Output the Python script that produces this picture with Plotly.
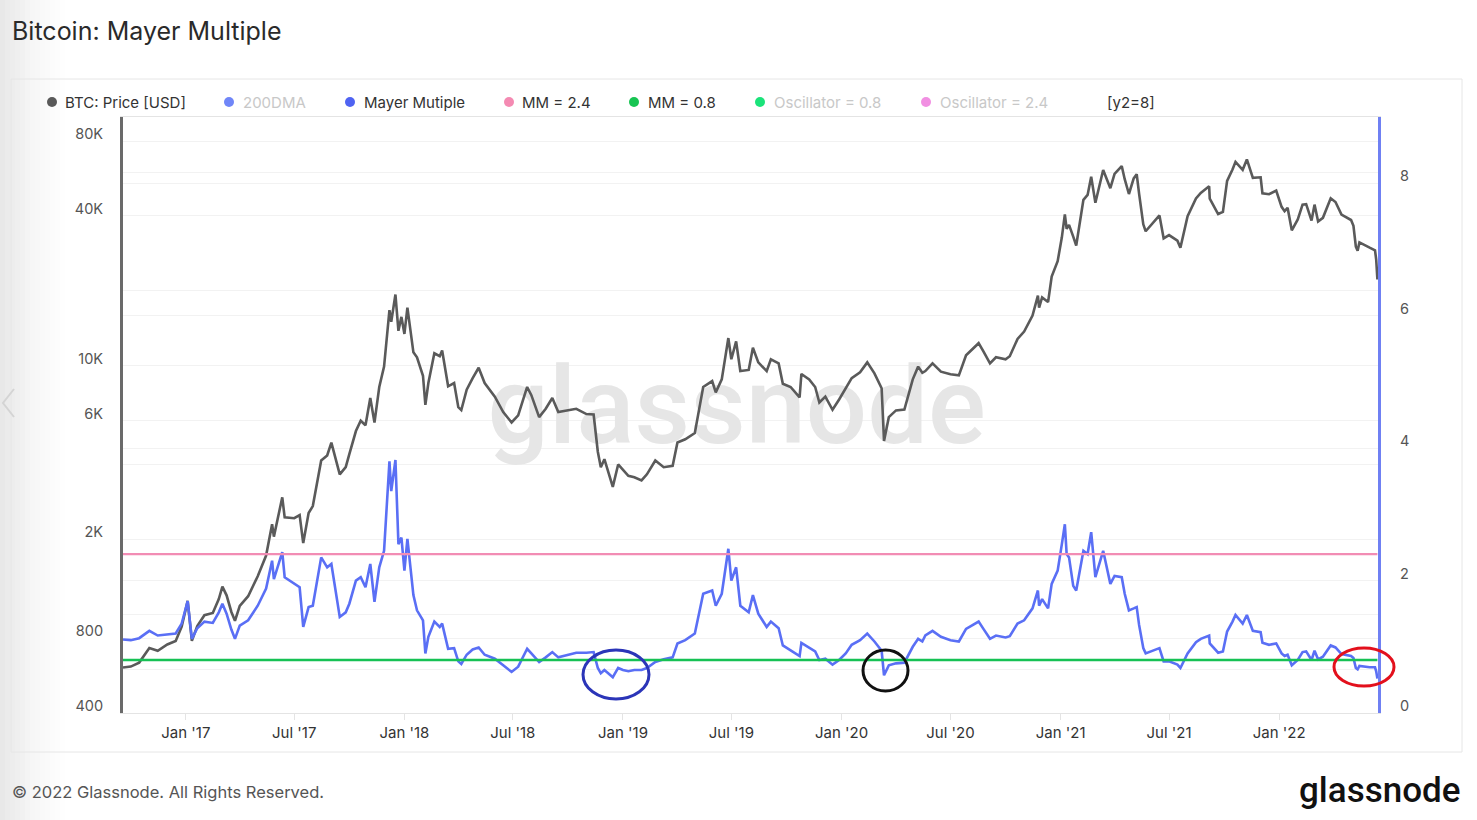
import math
import plotly.graph_objects as go

# ---------------- data ----------------
dates = [
    "2016-09-18", "2016-10-01", "2016-10-15", "2016-11-01", "2016-11-15", "2016-12-01", "2016-12-15", "2016-12-25",
    "2017-01-04", "2017-01-11", "2017-01-20", "2017-02-01", "2017-02-15", "2017-02-25", "2017-03-03", "2017-03-10",
    "2017-03-18", "2017-03-24", "2017-04-01", "2017-04-15", "2017-05-01", "2017-05-15", "2017-05-25", "2017-05-28",
    "2017-06-11", "2017-06-15", "2017-07-01", "2017-07-10", "2017-07-16", "2017-07-25", "2017-08-01", "2017-08-15",
    "2017-08-25", "2017-09-01", "2017-09-15", "2017-09-25", "2017-10-01", "2017-10-12", "2017-10-20", "2017-10-28",
    "2017-11-05", "2017-11-12", "2017-11-20", "2017-11-28", "2017-12-07", "2017-12-10", "2017-12-17", "2017-12-22",
    "2017-12-27", "2018-01-01", "2018-01-06", "2018-01-16", "2018-01-22", "2018-02-01", "2018-02-05", "2018-02-10",
    "2018-02-20", "2018-03-01", "2018-03-05", "2018-03-15", "2018-03-25", "2018-04-01", "2018-04-06", "2018-04-15",
    "2018-04-25", "2018-05-05", "2018-05-15", "2018-06-01", "2018-06-15", "2018-06-29", "2018-07-10", "2018-07-25",
    "2018-08-01", "2018-08-14", "2018-08-25", "2018-09-05", "2018-09-15", "2018-10-01", "2018-10-15", "2018-11-01",
    "2018-11-13", "2018-11-20", "2018-11-25", "2018-12-01", "2018-12-15", "2018-12-24", "2019-01-01", "2019-01-10",
    "2019-01-20", "2019-02-01", "2019-02-10", "2019-02-24", "2019-03-10", "2019-03-25", "2019-04-02", "2019-04-15",
    "2019-05-01", "2019-05-15", "2019-05-30", "2019-06-05", "2019-06-15", "2019-06-26", "2019-07-01", "2019-07-09",
    "2019-07-16", "2019-07-30", "2019-08-06", "2019-08-15", "2019-08-29", "2019-09-05", "2019-09-18", "2019-09-25",
    "2019-10-08", "2019-10-23", "2019-10-26", "2019-11-08", "2019-11-18", "2019-11-25", "2019-12-05", "2019-12-17",
    "2019-12-28", "2020-01-08", "2020-01-18", "2020-02-01", "2020-02-13", "2020-02-25", "2020-03-08", "2020-03-12",
    "2020-03-20", "2020-04-01", "2020-04-15", "2020-04-29", "2020-05-08", "2020-05-15", "2020-05-20", "2020-06-01",
    "2020-06-15", "2020-07-01", "2020-07-15", "2020-07-27", "2020-08-10", "2020-08-17", "2020-08-25", "2020-09-05",
    "2020-09-15", "2020-10-01", "2020-10-08", "2020-10-21", "2020-11-01", "2020-11-15", "2020-11-24", "2020-11-26",
    "2020-12-01", "2020-12-11", "2020-12-17", "2020-12-27", "2021-01-03", "2021-01-08", "2021-01-11", "2021-01-15",
    "2021-01-22", "2021-01-27", "2021-02-08", "2021-02-15", "2021-02-21", "2021-02-28", "2021-03-13", "2021-03-25",
    "2021-04-01", "2021-04-13", "2021-04-18", "2021-04-25", "2021-05-03", "2021-05-08", "2021-05-12", "2021-05-19",
    "2021-05-23", "2021-06-01", "2021-06-15", "2021-06-22", "2021-07-01", "2021-07-15", "2021-07-20", "2021-08-01",
    "2021-08-15", "2021-08-23", "2021-09-06", "2021-09-07", "2021-09-21", "2021-09-29", "2021-10-06", "2021-10-15",
    "2021-10-20", "2021-11-01", "2021-11-08", "2021-11-18", "2021-12-01", "2021-12-04", "2021-12-15", "2021-12-27",
    "2022-01-05", "2022-01-10", "2022-01-15", "2022-01-22", "2022-02-01", "2022-02-09", "2022-02-15", "2022-02-24",
    "2022-03-01", "2022-03-07", "2022-03-15", "2022-03-28", "2022-04-05", "2022-04-15", "2022-05-01", "2022-05-05",
    "2022-05-09", "2022-05-12", "2022-05-15", "2022-06-01", "2022-06-10", "2022-06-12", "2022-06-14",
]

btc_price = [
    610, 615, 638, 730, 712, 755, 780, 890,
    1130, 780, 895, 990, 1010, 1150, 1290, 1190,
    1020, 940, 1080, 1180, 1420, 1720, 2300, 2050,
    2950, 2450, 2430, 2500, 1930, 2550, 2720, 4150,
    4350, 4900, 3650, 3900, 4400, 5450, 6000, 5750,
    7400, 5900, 8200, 9900, 16700, 15000, 19300, 13800,
    15700, 13400, 17100, 11300, 10800, 9100, 6950, 8500,
    11200, 10900, 11500, 8250, 8500, 6800, 6620, 8000,
    8900, 9800, 8500, 7500, 6500, 5900, 6300, 8200,
    7600, 6200, 6700, 7400, 6500, 6600, 6700, 6380,
    6350, 4500, 3900, 4200, 3250, 4000, 3800, 3600,
    3550, 3450, 3650, 4150, 3900, 3950, 4900, 5050,
    5350, 8200, 8660, 7800, 8800, 12900, 10600, 12500,
    9500, 9600, 11800, 10300, 9500, 10600, 10200, 8450,
    8200, 7450, 9250, 8800, 8200, 7100, 7500, 6640,
    7300, 8100, 8900, 9400, 10300, 9300, 8100, 4970,
    6200, 6600, 6650, 8800, 9900, 9350, 9500, 10200,
    9450, 9230, 9130, 11000, 11900, 12300, 11400, 10200,
    10800, 10600, 10900, 12800, 13700, 15900, 19100, 17100,
    18800, 18000, 22800, 26300, 32800, 40600, 35500, 36800,
    33000, 30400, 46400, 48600, 57500, 45200, 61200, 51700,
    59000, 63500, 56200, 49000, 56600, 58900, 49200, 37000,
    34700, 36700, 40200, 32500, 33500, 31800, 29800, 39900,
    47000, 49500, 52600, 46900, 40700, 41500, 55300, 61500,
    66000, 61300, 67500, 56900, 57200, 49300, 48900, 50600,
    43500, 41800, 43100, 35000, 38700, 44400, 44600, 38300,
    44400, 38000, 39300, 47100, 45500, 40500, 38500, 36500,
    30100, 29000, 31300, 29800, 29100, 26700, 22200,
]

mayer_multiple = [
    1.11, 1.10, 1.13, 1.24, 1.17, 1.19, 1.20, 1.35,
    1.69, 1.12, 1.28, 1.38, 1.36, 1.52, 1.65, 1.50,
    1.26, 1.12, 1.32, 1.40, 1.62, 1.88, 2.30, 2.02,
    2.43, 2.05, 1.95, 1.90, 1.30, 1.60, 1.62, 2.35,
    2.20, 2.25, 1.45, 1.52, 1.65, 2.00, 2.05, 1.90,
    2.25, 1.68, 2.20, 2.45, 3.80, 3.35, 3.82, 2.55,
    2.65, 2.15, 2.63, 1.78, 1.55, 1.40, 0.90, 1.15,
    1.38, 1.30, 1.35, 0.97, 0.98, 0.78, 0.74, 0.88,
    0.96, 0.99, 0.88, 0.82, 0.72, 0.62, 0.70, 0.97,
    0.90, 0.77, 0.84, 0.92, 0.84, 0.88, 0.91, 0.91,
    0.92, 0.68, 0.60, 0.65, 0.54, 0.68, 0.65, 0.63,
    0.65, 0.65, 0.68, 0.77, 0.81, 0.84, 1.05, 1.10,
    1.20, 1.80, 1.85, 1.62, 1.80, 2.48, 2.00, 2.20,
    1.62, 1.52, 1.78, 1.50, 1.30, 1.38, 1.28, 1.02,
    0.95, 0.86, 1.06, 0.98, 0.93, 0.80, 0.82, 0.73,
    0.80, 0.90, 1.03, 1.10, 1.20, 1.08, 0.94, 0.57,
    0.72, 0.75, 0.76, 1.00, 1.12, 1.08, 1.17, 1.24,
    1.15, 1.10, 1.08, 1.27, 1.35, 1.38, 1.27, 1.12,
    1.17, 1.14, 1.16, 1.35, 1.40, 1.58, 1.85, 1.62,
    1.72, 1.58, 1.95, 2.15, 2.55, 2.85, 2.40, 2.35,
    1.92, 1.85, 2.45, 2.40, 2.73, 2.05, 2.45, 1.95,
    2.07, 2.05, 1.80, 1.55, 1.58, 1.60, 1.33, 0.98,
    0.90, 0.93, 0.98, 0.78, 0.78, 0.73, 0.68, 0.90,
    1.07, 1.12, 1.17, 1.05, 0.91, 0.93, 1.23, 1.38,
    1.48, 1.35, 1.48, 1.24, 1.22, 1.06, 1.03, 1.05,
    0.90, 0.86, 0.88, 0.72, 0.80, 0.92, 0.93, 0.80,
    0.94, 0.81, 0.85, 1.02, 0.99, 0.89, 0.86, 0.83,
    0.68, 0.66, 0.71, 0.69, 0.69, 0.63, 0.52,
]

mm_high = 2.4
mm_low = 0.8

left_tickvals = [400, 600, 800, 1000, 2000, 4000, 6000, 10000, 20000, 40000, 60000, 80000]
left_ticktext = ["400", "", "800", "", "2K", "", "6K", "10K", "", "40K", "", "80K"]
right_tickvals = [0, 2, 4, 6, 8]
x_tickvals = ["2017-01-01", "2017-07-01", "2018-01-01", "2018-07-01", "2019-01-01", "2019-07-01",
              "2020-01-01", "2020-07-01", "2021-01-01", "2021-07-01", "2022-01-01"]
x_ticktext = ["Jan '17", "Jul '17", "Jan '18", "Jul '18", "Jan '19", "Jul '19",
              "Jan '20", "Jul '20", "Jan '21", "Jul '21", "Jan '22"]

legend_labels = ["BTC: Price [USD]", "200DMA", "Mayer Mutiple", "MM = 2.4", "MM = 0.8",
                 "Oscillator = 0.8", "Oscillator = 2.4"]
legend_colors = ["#595959", "#7086f8", "#4f63f2", "#f48ab2", "#17c452", "#1be37a", "#f18fe2"]
legend_active = [True, False, True, True, True, False, False]

# ---------------- layout geometry ----------------
W, H = 1477, 820
L, R, T, B = 123, 1378, 117, 713
FONT = "Inter, Roboto, sans-serif"


def px(x):
    return (x - L) / (R - L)


def py(y):
    return (B - y) / (B - T)


fig = go.Figure()

# watermark (drawn first so the lines sit on top of it)
fig.add_trace(go.Scatter(
    x=["2019-07-10"], y=[6250], mode="text", text=["glassnode"],
    textfont=dict(family="Roboto, sans-serif", size=108, color="#e6e6e6", weight=500),
    hoverinfo="skip", showlegend=False, cliponaxis=False, yaxis="y"))

fig.add_trace(go.Scatter(
    x=dates, y=btc_price, mode="lines", name="BTC: Price [USD]",
    line=dict(color="#5a5a5a", width=2.6), yaxis="y", showlegend=False))

fig.add_trace(go.Scatter(
    x=dates, y=mayer_multiple, mode="lines", name="Mayer Mutiple",
    line=dict(color="#5a6ff5", width=2.6), yaxis="y2", showlegend=False))

fig.add_trace(go.Scatter(
    x=[dates[0], dates[-1]], y=[mm_high, mm_high], mode="lines", name="MM = 2.4",
    line=dict(color="#f28cb4", width=2.2), yaxis="y2", showlegend=False))

fig.add_trace(go.Scatter(
    x=[dates[0], dates[-1]], y=[mm_low, mm_low], mode="lines", name="MM = 0.8",
    line=dict(color="#16c154", width=2.4), yaxis="y2", showlegend=False))

shapes = []
# left screenshot gradient
for i in range(14):
    a = 0.20 * (1 - i / 14) ** 1.6
    shapes.append(dict(type="rect", xref="paper", yref="paper", layer="below",
                       x0=px(i * 5), x1=px((i + 1) * 5), y0=py(H), y1=py(0),
                       fillcolor=f"rgba(140,140,140,{a:.3f})", line=dict(width=0)))
# card border
shapes.append(dict(type="rect", xref="paper", yref="paper", layer="below",
                   x0=px(11), x1=px(1462), y0=py(752), y1=py(79),
                   line=dict(color="#e6e6e6", width=1), fillcolor="rgba(0,0,0,0)"))
# carousel chevron
shapes.append(dict(type="path", xref="paper", yref="paper",
                   path=f"M {px(14)},{py(389)} L {px(3)},{py(403)} L {px(14)},{py(417)}",
                   line=dict(color="#d4d4d4", width=2)))
# highlight ellipses
shapes.append(dict(type="circle", xref="paper", yref="paper",
                   x0=px(583), x1=px(649), y0=py(699), y1=py(650),
                   line=dict(color="#2b35b8", width=3)))
shapes.append(dict(type="circle", xref="paper", yref="paper",
                   x0=px(863), x1=px(908), y0=py(691), y1=py(650),
                   line=dict(color="#111111", width=3)))
shapes.append(dict(type="circle", xref="paper", yref="paper",
                   x0=px(1334), x1=px(1394), y0=py(686), y1=py(648),
                   line=dict(color="#e3101c", width=3)))

# legend
legend_dot_x = [52, 229, 350, 509, 634, 760, 926]
legend_text_x = [63, 241, 362, 520, 646, 772, 938]
annotations = []
for lab, col, act, dx, tx in zip(legend_labels, legend_colors, legend_active, legend_dot_x, legend_text_x):
    shapes.append(dict(type="circle", xref="paper", yref="paper",
                       xsizemode="pixel", ysizemode="pixel",
                       xanchor=px(dx), yanchor=py(102), x0=-5, x1=5, y0=-5, y1=5,
                       fillcolor=col, line=dict(width=0)))
    annotations.append(dict(xref="paper", yref="paper", x=px(tx), y=py(102),
                            xanchor="left", yanchor="middle", showarrow=False, text=lab,
                            font=dict(family=FONT, size=15, color="#333333" if act else "#c8c8c8")))
annotations.append(dict(xref="paper", yref="paper", x=px(1105), y=py(102),
                        xanchor="left", yanchor="middle", showarrow=False, text="[y2=8]",
                        font=dict(family=FONT, size=15, color="#333333")))
# title
annotations.append(dict(xref="paper", yref="paper", x=px(10), y=py(31),
                        xanchor="left", yanchor="middle", showarrow=False,
                        text="Bitcoin: Mayer Multiple",
                        font=dict(family=FONT, size=25, color="#2a2a2a")))
# footer
annotations.append(dict(xref="paper", yref="paper", x=px(10), y=py(792),
                        xanchor="left", yanchor="middle", showarrow=False,
                        text="© 2022 Glassnode. All Rights Reserved.",
                        font=dict(family=FONT, size=16.5, color="#555555")))
annotations.append(dict(xref="paper", yref="paper", x=px(1462), y=py(790),
                        xanchor="right", yanchor="middle", showarrow=False,
                        text="glassnode",
                        font=dict(family="Roboto, sans-serif", size=35, color="#111111", weight=500)))

fig.update_layout(
    width=W, height=H, autosize=False,
    margin=dict(l=L, r=W - R, t=T, b=H - B, pad=0),
    paper_bgcolor="white", plot_bgcolor="rgba(0,0,0,0)",
    showlegend=False, hovermode=False,
    font=dict(family=FONT, color="#333333"),
    xaxis=dict(type="date", range=["2016-09-18", "2022-06-15"],
               tickvals=x_tickvals, ticktext=x_ticktext,
               showgrid=False, zeroline=False,
               showline=True, linecolor="#e4e4e4", linewidth=1, mirror=True,
               ticks="outside", ticklen=6, tickcolor="#e4e4e4",
               tickfont=dict(family=FONT, size=15, color="#333333")),
    yaxis=dict(type="log", range=[math.log10(400), 5],
               tickvals=left_tickvals, ticktext=left_ticktext,
               showgrid=True, gridcolor="#f2f2f2", gridwidth=1, zeroline=False,
               showline=True, linecolor="#6a6a6a", linewidth=3,
               ticks="", ticklabelshift=-7, ticklabelstandoff=14,
               tickfont=dict(family=FONT, size=14.5, color="#555555")),
    yaxis2=dict(overlaying="y", side="right", range=[0, 9],
                tickvals=right_tickvals,
                showgrid=True, gridcolor="#f2f2f2", gridwidth=1, zeroline=False,
                showline=True, linecolor="#6f80f3", linewidth=3,
                ticks="", ticklabelshift=-7, ticklabelstandoff=16,
                tickfont=dict(family=FONT, size=14.5, color="#555555")),
    shapes=shapes,
    annotations=annotations,
)

fig.write_html("out.html")
